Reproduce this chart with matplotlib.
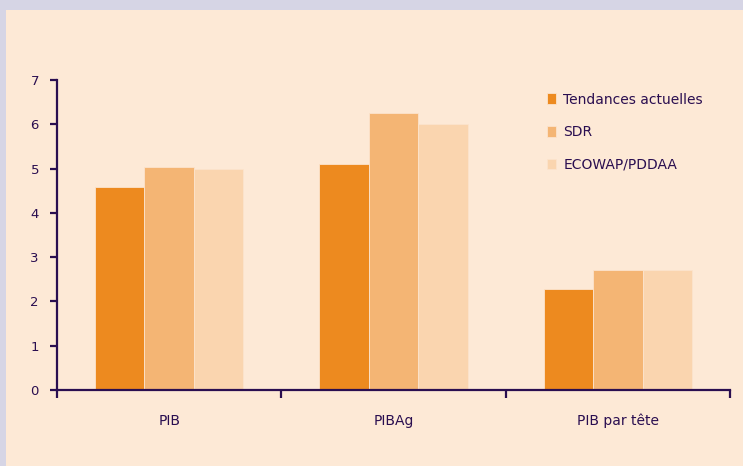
import numpy as np
import matplotlib
matplotlib.use('agg')
import matplotlib.pyplot as plt
from matplotlib.patches import Rectangle

# values
categories = ['PIB', 'PIBAg', 'PIB par tête']
series = ['Tendances actuelles', 'SDR', 'ECOWAP/PDDAA']
tendances = [4.58, 5.10, 2.28]
sdr = [5.03, 6.25, 2.72]
ecowap = [5.00, 6.00, 2.72]

colors = ['#ED8A1F', '#F4B574', '#FAD5AF']
bg = '#FDE9D6'
ink = '#2A0E50'

fig = plt.figure(figsize=(7.43, 4.66), dpi=100, facecolor='#D6D5E5')
# cream panel inside the lavender frame
fig.patches.append(Rectangle((6/743, 0), 1, 1 - 10/466, transform=fig.transFigure,
                             facecolor=bg, edgecolor='none', zorder=-10))

ax = fig.add_axes([57/743, 76/466, (730-57)/743, (390-80)/466])
ax.set_facecolor('none')
ax.set_zorder(5)

x = np.arange(len(categories))
w = 0.22
for i, (vals, name) in enumerate(zip([tendances, sdr, ecowap], series)):
    ax.bar(x + (i - 1) * w, vals, w, color=colors[i], edgecolor='#FCE3CC',
           linewidth=0.6, label=name, zorder=2)

ax.set_xlim(-0.5, len(categories) - 0.5)
ax.set_ylim(0, 7)
ax.set_yticks(range(8))

for s in ['top', 'right']:
    ax.spines[s].set_visible(False)
for s in ['left', 'bottom']:
    ax.spines[s].set_color(ink)
    ax.spines[s].set_linewidth(1.6)

# category ticks sit on the boundaries, labels in the middle
ax.set_xticks(np.arange(len(categories) + 1) - 0.5)
ax.set_xticklabels([])
ax.set_xticks(x, minor=True)
ax.set_xticklabels(categories, minor=True)
ax.tick_params(axis='x', which='major', length=6, width=1.6, color=ink)
ax.tick_params(axis='x', which='minor', length=0, pad=17, labelsize=10, labelcolor=ink)
ax.tick_params(axis='y', length=5, width=1.6, color=ink, labelsize=9.5,
               labelcolor=ink, pad=8)

ax.legend(loc='upper left', bbox_to_anchor=(534/743, 1 - 80/466),
          bbox_transform=fig.transFigure, frameon=False, fontsize=10,
          labelcolor=ink, handlelength=0.7, handleheight=0.8,
          handletextpad=0.5, labelspacing=1.35)

plt.savefig('out.png', dpi=100, facecolor=fig.get_facecolor())
